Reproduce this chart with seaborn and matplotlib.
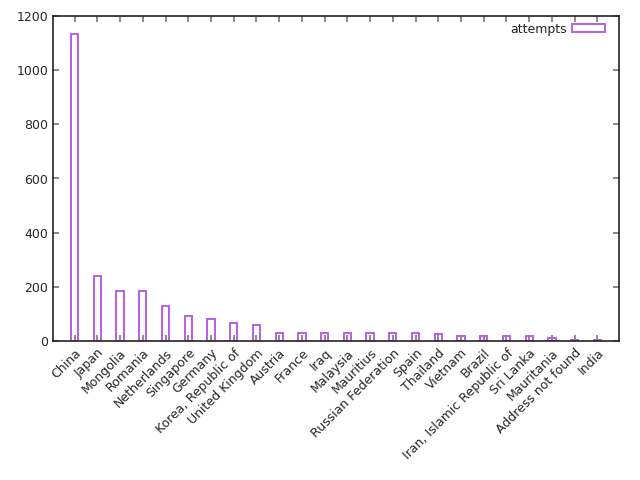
import pandas as pd
import matplotlib
matplotlib.use('Agg')
import matplotlib.pyplot as plt
import seaborn as sns
from matplotlib.patches import Patch

# 数据：各国尝试次数
countries = ['China', 'Japan', 'Mongolia', 'Romania', 'Netherlands', 'Singapore',
             'Germany', 'Korea, Republic of', 'United Kingdom', 'Austria', 'France',
             'Iraq', 'Malaysia', 'Mauritius', 'Russian Federation', 'Spain', 'Thailand',
             'Vietnam', 'Brazil', 'Iran, Islamic Republic of', 'Sri Lanka', 'Mauritania',
             'Address not found', 'India']
attempts = [1132, 239, 183, 183, 131, 91, 80, 65, 58, 29, 29, 29, 29, 29, 29, 29, 27,
            20, 20, 17, 17, 12, 4, 3]

df = pd.DataFrame({'country': countries, 'attempts': attempts})

sns.set_style('ticks')
plt.rcParams['font.family'] = ['DejaVu Sans']

bar_color = '#b85ee8'

fig = plt.figure(figsize=(6.4, 4.8), dpi=100)
ax = fig.add_axes([53 / 640, 1 - 341 / 480, (619 - 53) / 640, (341 - 16) / 480])

sns.barplot(data=df, x='country', y='attempts', color=bar_color, fill=False,
            width=0.32, linewidth=1.4, ax=ax)

ax.set_xlim(-0.95, len(countries) - 0.05)
ax.set_ylim(0, 1200)
ax.set_yticks(range(0, 1201, 200))
ax.set_xlabel('')
ax.set_ylabel('')

ax.set_xticks(range(len(countries)))
ax.set_xticklabels(countries, rotation=45, ha='right', rotation_mode='anchor', fontsize=9)
ax.tick_params(axis='x', direction='in', length=4.5, width=1.2, color='#777777',
               top=True, pad=4)
ax.tick_params(axis='y', direction='in', length=4.5, width=1.2, color='#777777',
               right=True, labelsize=9)
ax.tick_params(axis='x', labelsize=9)

for s in ax.spines.values():
    s.set_visible(True)
    s.set_linewidth(1.2)
    s.set_color('#222222')

handle = Patch(facecolor='none', edgecolor=bar_color, linewidth=1.4)
ax.legend([handle], ['attempts'], loc='upper right', frameon=False, markerfirst=False,
          fontsize=9, handlelength=2.7, handleheight=0.6, handletextpad=0.4,
          borderaxespad=0.3, bbox_to_anchor=(1 - 5 / 566, 1 + 2 / 325))

fig.savefig('out.png', dpi=100)
